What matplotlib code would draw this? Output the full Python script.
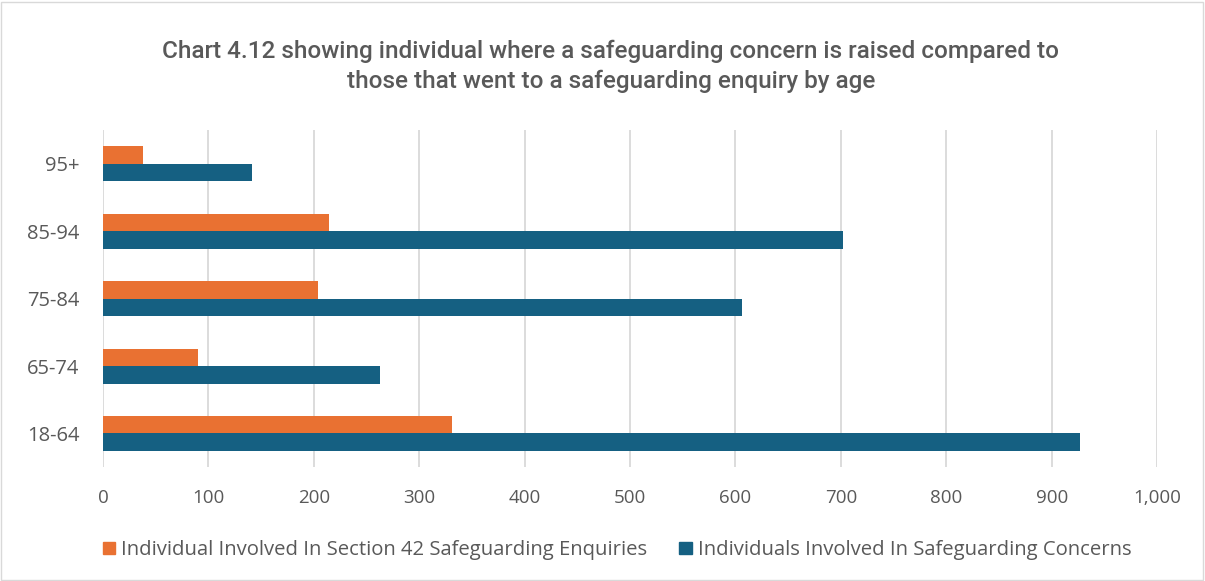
import numpy as np
import matplotlib.pyplot as plt
from matplotlib.patches import Patch, Rectangle

# Data
age_groups = ["18-64", "65-74", "75-84", "85-94", "95+"]
enquiries = [331, 90, 204, 214, 38]
concerns = [927, 263, 606, 702, 141]
x_ticks = [0, 100, 200, 300, 400, 500, 600, 700, 800, 900, 1000]

orange = "#E97132"
blue = "#156082"
text_grey = "#595959"
grid_grey = "#D9D9D9"

plt.rcParams["font.family"] = ["Open Sans", "DejaVu Sans"]

fig = plt.figure(figsize=(12.05, 5.81), dpi=100)
ax = fig.add_axes([0.0855, 0.196, 0.8747, 0.580])

y = np.arange(len(age_groups))
h = 0.26
ax.barh(y + h / 2, enquiries, height=h, color=orange, zorder=3)
ax.barh(y - h / 2, concerns, height=h, color=blue, zorder=3)

ax.set_xlim(0, 1000)
ax.set_ylim(-0.5, len(age_groups) - 0.5)
ax.set_xticks(x_ticks)
ax.set_xticklabels([f"{v:,}" for v in x_ticks])
ax.set_yticks(y)
ax.set_yticklabels(age_groups)
ax.tick_params(axis="both", length=0, labelsize=13.5, labelcolor=text_grey)
ax.tick_params(axis="y", labelsize=14.5, pad=17)
ax.tick_params(axis="x", pad=16)
ax.grid(axis="x", color=grid_grey, linewidth=1.3, zorder=0)
for s in ax.spines.values():
    s.set_visible(False)

fig.text(0.507, 0.886, "Chart 4.12 showing individual where a safeguarding concern is raised compared to\n"
         "those that went to a safeguarding enquiry by age",
         ha="center", va="center", fontsize=17.5, color=text_grey, linespacing=1.35,
         family=["Roboto", "DejaVu Sans"], weight="medium")

handles = [Patch(color=orange), Patch(color=blue)]
fig.legend(handles, ["Individual Involved In Section 42 Safeguarding Enquiries",
                     "Individuals Involved In Safeguarding Concerns"],
           loc="center", bbox_to_anchor=(0.512, 0.053), ncol=2, frameon=False,
           fontsize=14.6, labelcolor=text_grey, handlelength=0.6, handleheight=0.6,
           handletextpad=0.3, columnspacing=1.6)

fig.patches.append(Rectangle((0.001, 0.002), 0.997, 0.995, transform=fig.transFigure,
                             fill=False, edgecolor=grid_grey, linewidth=1))

fig.savefig("out.png", dpi=100)
